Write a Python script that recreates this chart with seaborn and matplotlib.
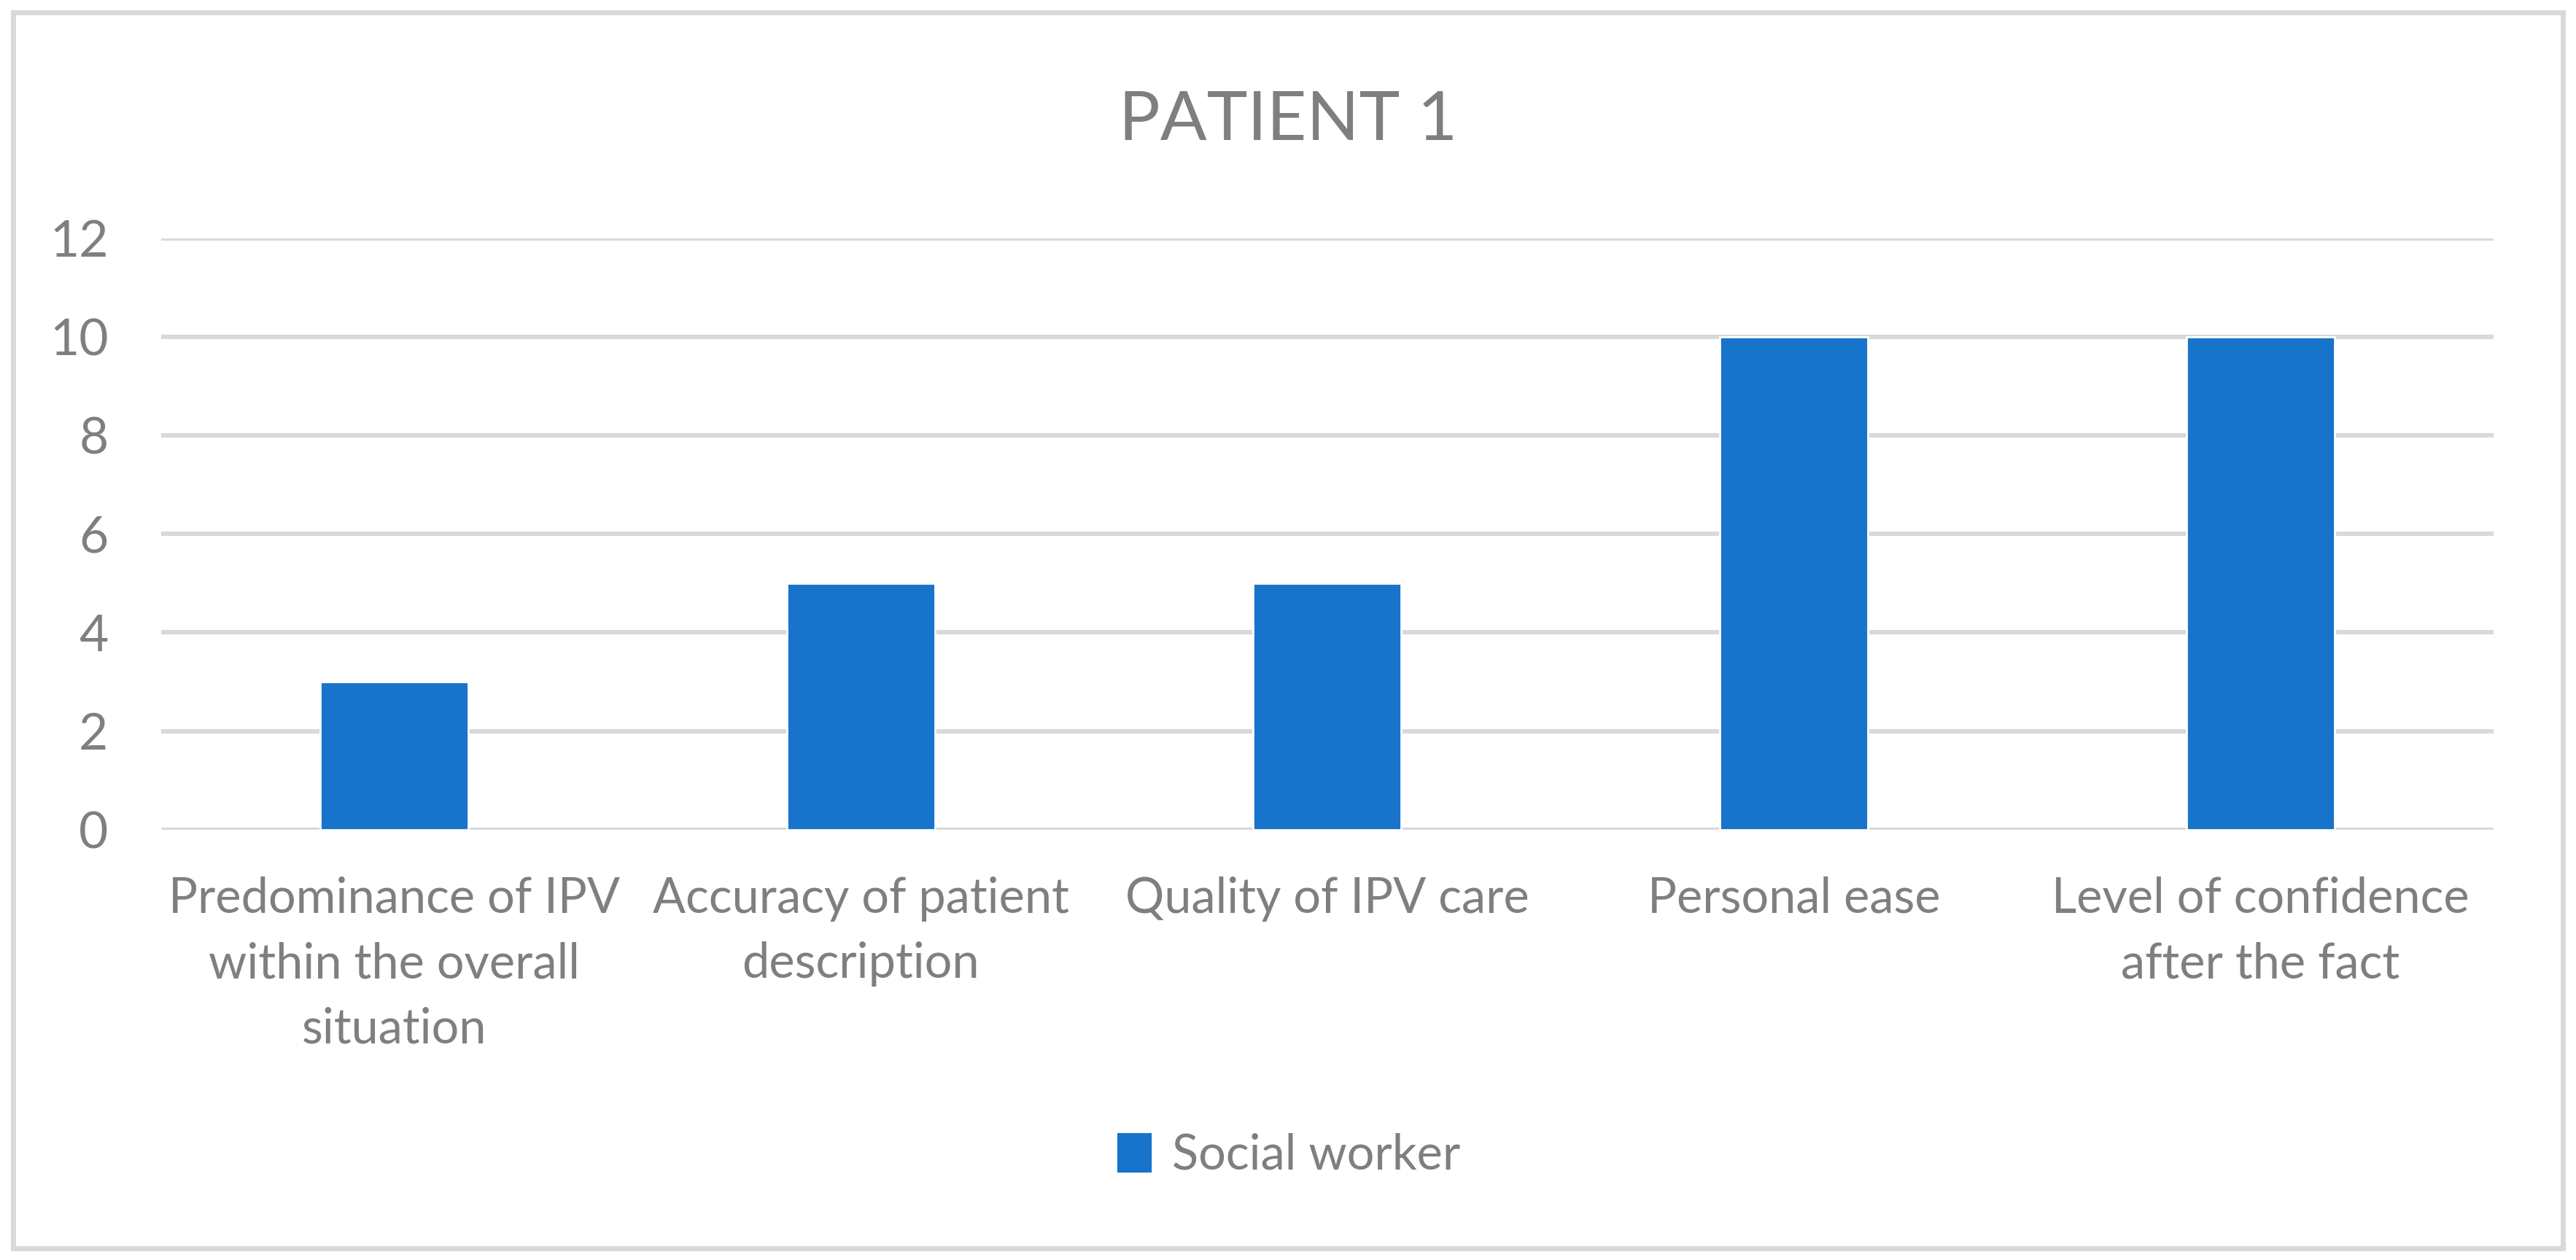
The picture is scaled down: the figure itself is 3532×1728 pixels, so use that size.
import matplotlib
matplotlib.use("Agg")
import matplotlib.pyplot as plt
import seaborn as sns
import pandas as pd
from matplotlib.patches import Rectangle

categories = [
    "Predominance of IPV\nwithin the overall\nsituation",
    "Accuracy of patient\ndescription",
    "Quality of IPV care",
    "Personal ease",
    "Level of confidence\nafter the fact",
]
social_worker = [3, 5, 5, 10, 10]
series_name = "Social worker"
y_ticks = [0, 2, 4, 6, 8, 10, 12]

bar_color = "#1873CA"
text_color = "#7F7F7F"
grid_color = "#D9D9D9"

sns.set_theme(style="white")
plt.rcParams['font.family'] = ['Lato', 'DejaVu Sans']

df = pd.DataFrame({"category": categories, "value": social_worker, "series": series_name})

fig = plt.figure(figsize=(17.66, 8.64), dpi=200)
ax = fig.add_axes([0.0625, 0.3416, 0.9055, 0.4694])

sns.barplot(data=df, x="category", y="value", hue="series", palette=[bar_color],
            saturation=1, width=0.317, ax=ax, zorder=3)

ax.set_ylim(0, 12)
ax.set_yticks(y_ticks)
ax.set_xlim(-0.5, len(categories) - 0.5)
ax.yaxis.grid(True, color=grid_color, linewidth=2.2, zorder=0)
ax.xaxis.grid(False)
for s in ax.spines.values():
    s.set_visible(False)
ax.tick_params(axis="y", labelsize=25, labelcolor=text_color, length=0, pad=26)
ax.tick_params(axis="x", labelsize=24, labelcolor=text_color, length=0, pad=23)
for lbl in ax.get_xticklabels():
    lbl.set_linespacing(1.55)
    lbl.set_verticalalignment("top")
ax.set_xlabel("")
ax.set_ylabel("")

# line at 0 in the same grey as the grid
ax.axhline(0, color=grid_color, linewidth=2.2, zorder=1)

fig.suptitle("PATIENT 1", x=0.5, y=0.928, fontsize=34, color=text_color)

leg = ax.legend(loc="center", bbox_to_anchor=(0.5, 0.0835), bbox_transform=fig.transFigure,
                frameon=False, fontsize=24, handlelength=0.75, handleheight=0.95,
                handletextpad=0.4, labelcolor=text_color)

# outer chart border
fig.patches.append(Rectangle((0.0051, 0.009), 0.9898, 0.981, transform=fig.transFigure,
                             fill=False, edgecolor=grid_color, linewidth=2.5))

fig.savefig("out.png", dpi=200, facecolor="white")
